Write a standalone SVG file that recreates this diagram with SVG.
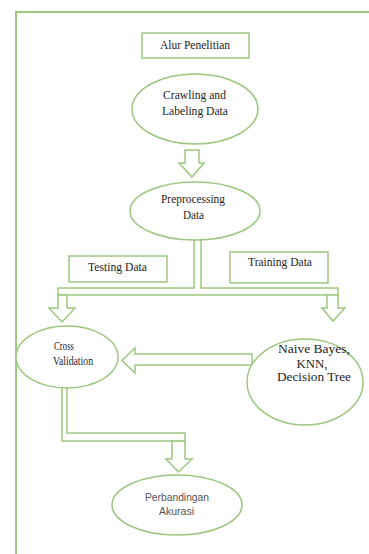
<svg xmlns="http://www.w3.org/2000/svg" width="369" height="554" viewBox="0 0 369 554">
<style>
.s{fill:#fff;stroke:#9cc77e;stroke-width:1.5;stroke-linejoin:miter}
.f{fill:none;stroke:#9cc77e;stroke-width:2}
.t{font-family:"Liberation Serif","Times New Roman",serif;font-size:12px;fill:#1e1e1e;text-anchor:middle}
.u{font-family:"Liberation Sans",Arial,sans-serif;font-size:11px;fill:#555;text-anchor:middle}
</style>
<rect width="369" height="554" fill="#fff"/>
<g id="frame"><path class="f" d="M16,554 V12 H369"/></g>
<g id="connectors">
<path class="s" d="M185,150 H199 V163 H204 L192,177 L179,163 H185 Z"/>
<path class="s" d="M194,236 H201 V288 H338 V295 H58 V288 H194 Z"/>
<path class="s" d="M58,295 H67 V308 H75 L62,322 L49,308 H58 Z"/>
<path class="s" d="M327,295 H338 V308 H345 L333,321 L322,308 H327 Z"/>
<path class="s" d="M252,354 H135 V348 L122,360.5 L135,373 V365 H252 Z"/>
<path class="s" d="M62,384 H67 V433 H185 V441 H62 Z"/>
<path class="s" d="M172,441 H185 V459 H192 L178.5,472 L166,459 H172 Z"/>
</g>
<g id="alur"><rect class="s" x="142" y="33" width="107" height="25"/><text class="t" x="195" y="49" textLength="70" lengthAdjust="spacingAndGlyphs">Alur Penelitian</text></g>
<g id="crawling"><ellipse class="s" cx="195" cy="109" rx="63" ry="35"/><text class="t" x="194.5" y="99" textLength="63" lengthAdjust="spacingAndGlyphs">Crawling and</text><text class="t" x="195" y="115" textLength="66" lengthAdjust="spacingAndGlyphs">Labeling Data</text></g>
<g id="preprocessing"><ellipse class="s" cx="195" cy="211" rx="65" ry="29"/><text class="t" x="193" y="203" textLength="64" lengthAdjust="spacingAndGlyphs">Preprocessing</text><text class="t" x="193.5" y="219" textLength="21" lengthAdjust="spacingAndGlyphs">Data</text></g>
<g id="testing"><rect class="s" x="69" y="256" width="98" height="26"/><text class="t" x="117.5" y="271" textLength="59" lengthAdjust="spacingAndGlyphs">Testing Data</text></g>
<g id="training"><rect class="s" x="230" y="252" width="98" height="31"/><text class="t" x="280" y="266" textLength="64" lengthAdjust="spacingAndGlyphs">Training Data</text></g>
<g id="cross"><ellipse class="s" cx="67" cy="357" rx="51" ry="31"/><text class="t" x="64" y="350" textLength="20" lengthAdjust="spacingAndGlyphs">Cross</text><text class="t" x="73" y="365" textLength="40" lengthAdjust="spacingAndGlyphs">Validation</text></g>
<g id="models"><ellipse class="s" cx="305" cy="382" rx="58" ry="43"/><text class="t" x="314" y="353" textLength="72" lengthAdjust="spacingAndGlyphs">Naive Bayes,</text><text class="t" x="312" y="368" textLength="31" lengthAdjust="spacingAndGlyphs">KNN,</text><text class="t" x="314" y="381" textLength="74" lengthAdjust="spacingAndGlyphs">Decision Tree</text></g>
<g id="perbandingan"><ellipse class="s" cx="177" cy="505" rx="65" ry="30"/><text class="u" x="177" y="501" textLength="64" lengthAdjust="spacingAndGlyphs">Perbandingan</text><text class="u" x="176.5" y="515" textLength="35" lengthAdjust="spacingAndGlyphs">Akurasi</text></g>
</svg>
